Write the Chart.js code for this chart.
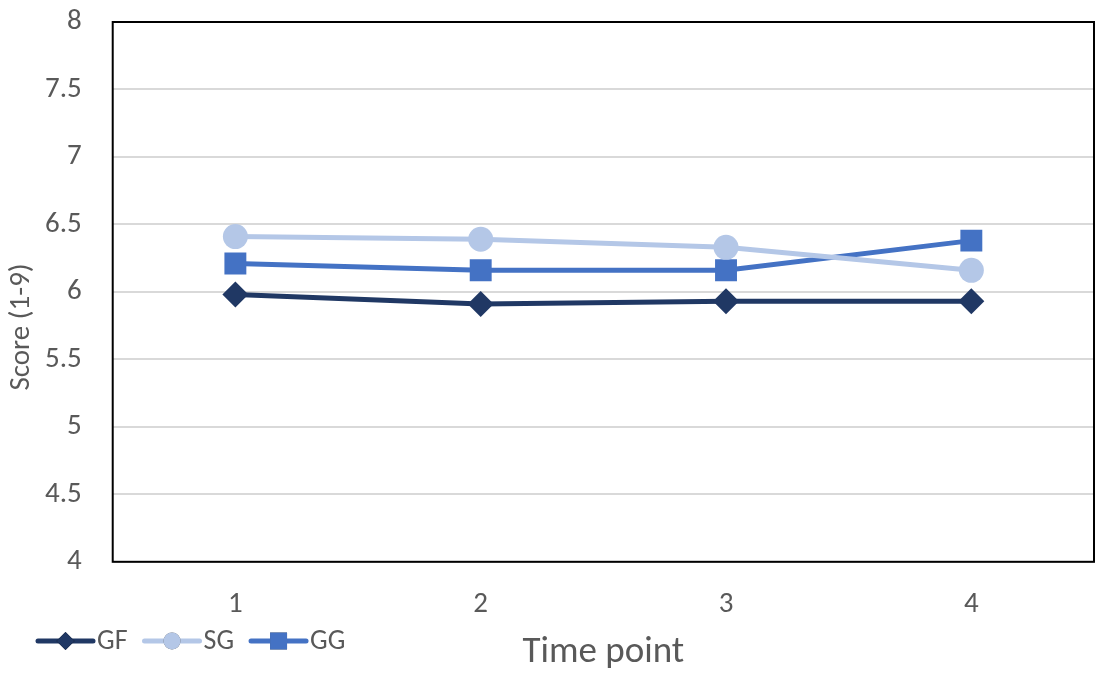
<!DOCTYPE html>
<html>
<head>
<meta charset="utf-8">
<script src="https://cdn.jsdelivr.net/npm/chart.js@4"></script>
<style>
  html, body { margin: 0; padding: 0; background: #fff; }
  #wrap { width: 1096px; height: 675px; }
</style>
</head>
<body>
<div id="wrap"><canvas id="myChart" width="1096" height="675"></canvas></div>
<script>
var timePoints = ['1', '2', '3', '4'];
var gfScores = [5.98, 5.91, 5.93, 5.93];
var sgScores = [6.41, 6.39, 6.33, 6.16];
var ggScores = [6.21, 6.16, 6.16, 6.38];
var yTitle = 'Score (1-9)';

var fontFamily = "Carlito, 'Noto Sans', 'Open Sans', sans-serif";
var textColor = '#595959';

// legend drawn by hand: line + marker, like the office style legend
var lineLegend = {
  id: 'lineLegend',
  afterDraw: function (chart) {
    var ctx = chart.ctx;
    var x = 38, y = 641;
    ctx.save();
    ctx.font = '28px ' + fontFamily;
    ctx.textBaseline = 'middle';
    chart.data.datasets.forEach(function (ds) {
      ctx.strokeStyle = ds.borderColor;
      ctx.lineWidth = 5;
      ctx.lineCap = 'round';
      ctx.beginPath();
      ctx.moveTo(x, y);
      ctx.lineTo(x + 55, y);
      ctx.stroke();
      Chart.helpers.drawPoint(ctx, {
        pointStyle: ds.pointStyle,
        radius: ds.legendRadius,
        borderWidth: 0
      }, x + 27.5, y);
      ctx.fillStyle = ds.borderColor;
      ctx.fill();
      ctx.fillStyle = textColor;
      ctx.textAlign = 'left';
      ctx.fillText(ds.label, x + 59, y + 1);
      x += 59 + ctx.measureText(ds.label).width + 17;
    });
    ctx.restore();
  }
};

// black frame round the plot area + rotated y title
var plotFrame = {
  id: 'plotFrame',
  beforeDatasetsDraw: function (chart) {
    var a = chart.chartArea;
    var ctx = chart.ctx;
    ctx.save();
    ctx.strokeStyle = '#000';
    ctx.lineWidth = 2;
    ctx.strokeRect(a.left, a.top, a.right - a.left, a.bottom - a.top);
    ctx.translate(22, a.top + (a.bottom - a.top) * 0.565);
    ctx.rotate(-Math.PI / 2);
    ctx.font = '29px ' + fontFamily;
    ctx.fillStyle = textColor;
    ctx.textAlign = 'center';
    ctx.textBaseline = 'middle';
    ctx.fillText(yTitle, 0, 0);
    ctx.restore();
  }
};

var ctx = document.getElementById('myChart').getContext('2d');
var myChart = new Chart(ctx, {
  type: 'line',
  data: {
    labels: timePoints,
    datasets: [
      {
        label: 'GF',
        data: gfScores,
        borderColor: '#203864',
        backgroundColor: '#203864',
        borderWidth: 5,
        pointStyle: 'rectRot',
        pointRadius: 13,
        pointHoverRadius: 13,
        pointBorderWidth: 0,
        legendRadius: 9
      },
      {
        label: 'SG',
        data: sgScores,
        borderColor: '#b4c7e7',
        backgroundColor: '#b4c7e7',
        borderWidth: 5,
        pointStyle: 'circle',
        pointRadius: 12.5,
        pointHoverRadius: 12.5,
        pointBorderWidth: 0,
        legendRadius: 8.5
      },
      {
        label: 'GG',
        data: ggScores,
        borderColor: '#4472c4',
        backgroundColor: '#4472c4',
        borderWidth: 5,
        pointStyle: 'rect',
        pointRadius: 15.5,
        pointHoverRadius: 15.5,
        pointBorderWidth: 0,
        legendRadius: 12
      }
    ]
  },
  options: {
    responsive: false,
    animation: false,
    layout: {
      autoPadding: false,
      padding: { top: 22, right: 2, bottom: 0, left: 14 }
    },
    plugins: {
      legend: { display: false },
      tooltip: { enabled: false }
    },
    scales: {
      x: {
        offset: true,
        grid: { display: false, drawTicks: false },
        border: { display: false },
        ticks: {
          color: textColor,
          padding: 26,
          font: { family: fontFamily, size: 29 }
        },
        title: {
          display: true,
          text: 'Time point',
          color: textColor,
          padding: { top: -18, bottom: 0 },
          font: { family: fontFamily, size: 37 }
        }
      },
      y: {
        min: 4,
        max: 8,
        grid: { color: '#d9d9d9', lineWidth: 2, drawTicks: false },
        border: { display: false },
        ticks: {
          stepSize: 0.5,
          color: textColor,
          padding: 31,
          font: { family: fontFamily, size: 29 },
          callback: function (v) { return String(v); }
        },
        afterFit: function (scale) {
          // labels sit on the gridlines; no extra room above/below
          scale.paddingTop = 0;
          scale.paddingBottom = 0;
        }
      }
    }
  },
  plugins: [plotFrame, lineLegend]
});
</script>
</body>
</html>
